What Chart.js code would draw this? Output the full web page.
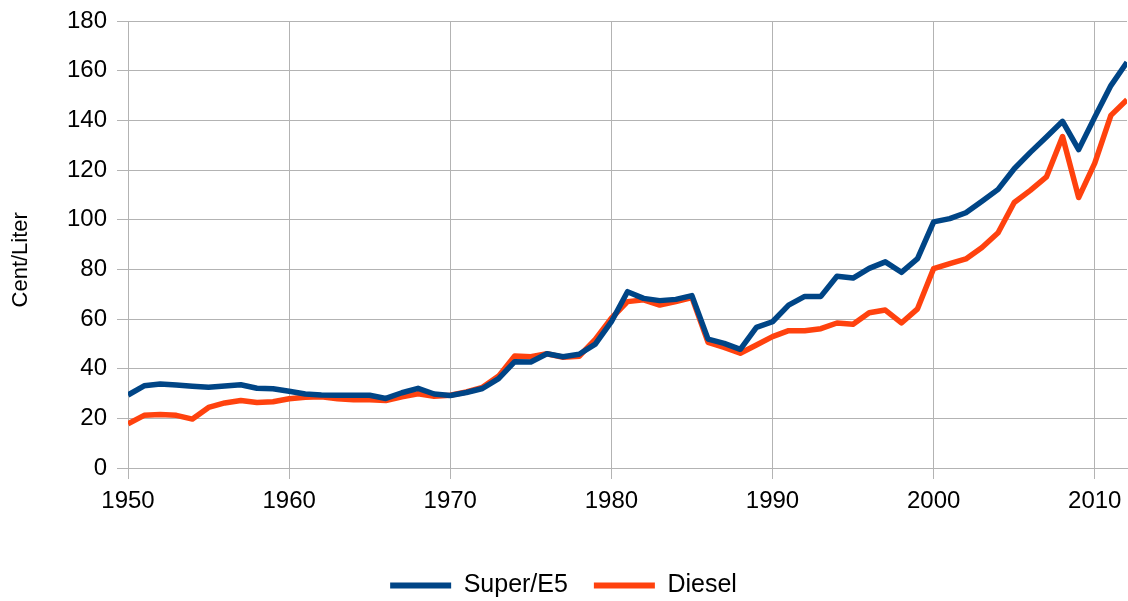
<!DOCTYPE html>
<html>
<head>
<meta charset="utf-8">
<script src="https://cdn.jsdelivr.net/npm/chart.js@4"></script>
<style>
  html, body { margin: 0; padding: 0; background: #fff; }
  #wrap { width: 1128px; height: 601px; }
</style>
</head>
<body>
<div id="wrap"><canvas id="preise" width="1128" height="601"></canvas></div>
<script>
// Jahre und Preise (Cent/Liter)
const jahre = [
  1950, 1951, 1952, 1953, 1954, 1955, 1956, 1957, 1958, 1959,
  1960, 1961, 1962, 1963, 1964, 1965, 1966, 1967, 1968, 1969,
  1970, 1971, 1972, 1973, 1974, 1975, 1976, 1977, 1978, 1979,
  1980, 1981, 1982, 1983, 1984, 1985, 1986, 1987, 1988, 1989,
  1990, 1991, 1992, 1993, 1994, 1995, 1996, 1997, 1998, 1999,
  2000, 2001, 2002, 2003, 2004, 2005, 2006, 2007, 2008, 2009,
  2010, 2011, 2012
];
const superE5 = [
  29.4, 33.1, 33.8, 33.4, 32.9, 32.5, 33.0, 33.5, 32.1, 31.9,
  30.9, 29.8, 29.4, 29.3, 29.3, 29.3, 28.0, 30.3, 32.1, 29.8,
  29.2, 30.4, 32.0, 36.0, 42.8, 42.7, 46.0, 44.8, 45.8, 49.9,
  58.9, 71.0, 68.3, 67.4, 67.9, 69.4, 51.9, 50.2, 47.8, 56.6,
  58.9, 65.6, 69.1, 69.1, 77.2, 76.5, 80.4, 83.0, 78.8, 84.3,
  99.1, 100.4, 102.8, 107.4, 112.2, 120.5, 127.1, 133.3, 139.6, 128.2,
  141.3, 154.0, 163.4
];
const diesel = [
  17.8, 21.2, 21.5, 21.2, 19.7, 24.4, 26.2, 27.2, 26.4, 26.7,
  27.9, 28.5, 28.7, 27.9, 27.5, 27.5, 27.2, 28.7, 29.9, 28.9,
  29.3, 30.6, 32.5, 37.0, 45.1, 44.8, 46.0, 44.6, 45.0, 51.8,
  60.3, 67.0, 67.7, 65.6, 67.0, 68.6, 50.6, 48.6, 46.2, 49.5,
  52.9, 55.3, 55.3, 56.1, 58.4, 57.9, 62.5, 63.6, 58.4, 64.1,
  80.3, 82.3, 84.2, 88.8, 94.7, 106.9, 111.8, 117.2, 133.5, 108.9,
  122.8, 142.0, 148.3
];
const xTicks = [1950, 1960, 1970, 1980, 1990, 2000, 2010];
const yMin = 0, yMax = 180, yStep = 20;

const punkte = (werte) => jahre.map((j, i) => ({ x: j, y: werte[i] }));

const schrift = { family: '"Liberation Sans", Arial, sans-serif', size: 24 };
const gitter = '#b3b3b3';

new Chart(document.getElementById('preise'), {
  type: 'line',
  data: {
    datasets: [
      {
        label: 'Super/E5',
        data: punkte(superE5),
        borderColor: '#004586',
        backgroundColor: '#004586',
        borderWidth: 5.5,
        borderJoinStyle: 'round',
        pointRadius: 0,
        tension: 0,
        fill: false
      },
      {
        label: 'Diesel',
        data: punkte(diesel),
        borderColor: '#ff420e',
        backgroundColor: '#ff420e',
        borderWidth: 5.5,
        borderJoinStyle: 'round',
        pointRadius: 0,
        tension: 0,
        fill: false
      }
    ]
  },
  options: {
    responsive: false,
    devicePixelRatio: 1,
    animation: false,
    layout: { padding: { top: 21, right: 1, left: 0, bottom: -7 } },
    scales: {
      x: {
        type: 'linear',
        min: 1950,
        max: 2012,
        afterBuildTicks: (s) => { s.ticks = xTicks.map(v => ({ value: v })); },
        afterFit: (s) => { s.height = 79; s.paddingLeft = 0; s.paddingRight = 0; },
        grid: { color: gitter, lineWidth: 1, tickLength: 11, tickColor: gitter },
        border: { color: gitter },
        ticks: {
          color: '#000', font: schrift, padding: 8, maxRotation: 0, autoSkip: false,
          callback: (v) => String(v)
        }
      },
      y: {
        min: yMin,
        max: yMax,
        afterFit: (s) => { s.width = 128; s.paddingTop = 0; s.paddingBottom = 0; },
        grid: { color: gitter, lineWidth: 1, tickLength: 11, tickColor: gitter },
        border: { color: gitter },
        ticks: { stepSize: yStep, color: '#000', font: schrift, padding: 10 },
        title: {
          display: true,
          text: 'Cent/Liter     ',
          color: '#000',
          font: { family: schrift.family, size: 22 },
          padding: { top: 8, bottom: 0 }
        }
      }
    },
    plugins: {
      tooltip: { enabled: false },
      legend: {
        position: 'bottom',
        labels: {
          color: '#000',
          font: { family: schrift.family, size: 25 },
          boxWidth: 61,
          boxHeight: 6,
          padding: 26,
          generateLabels: (chart) => {
            const items = Chart.defaults.plugins.legend.labels.generateLabels(chart);
            items.forEach(it => { it.lineWidth = 0; it.fillStyle = it.strokeStyle; });
            return items;
          }
        }
      }
    }
  }
});
</script>
</body>
</html>
